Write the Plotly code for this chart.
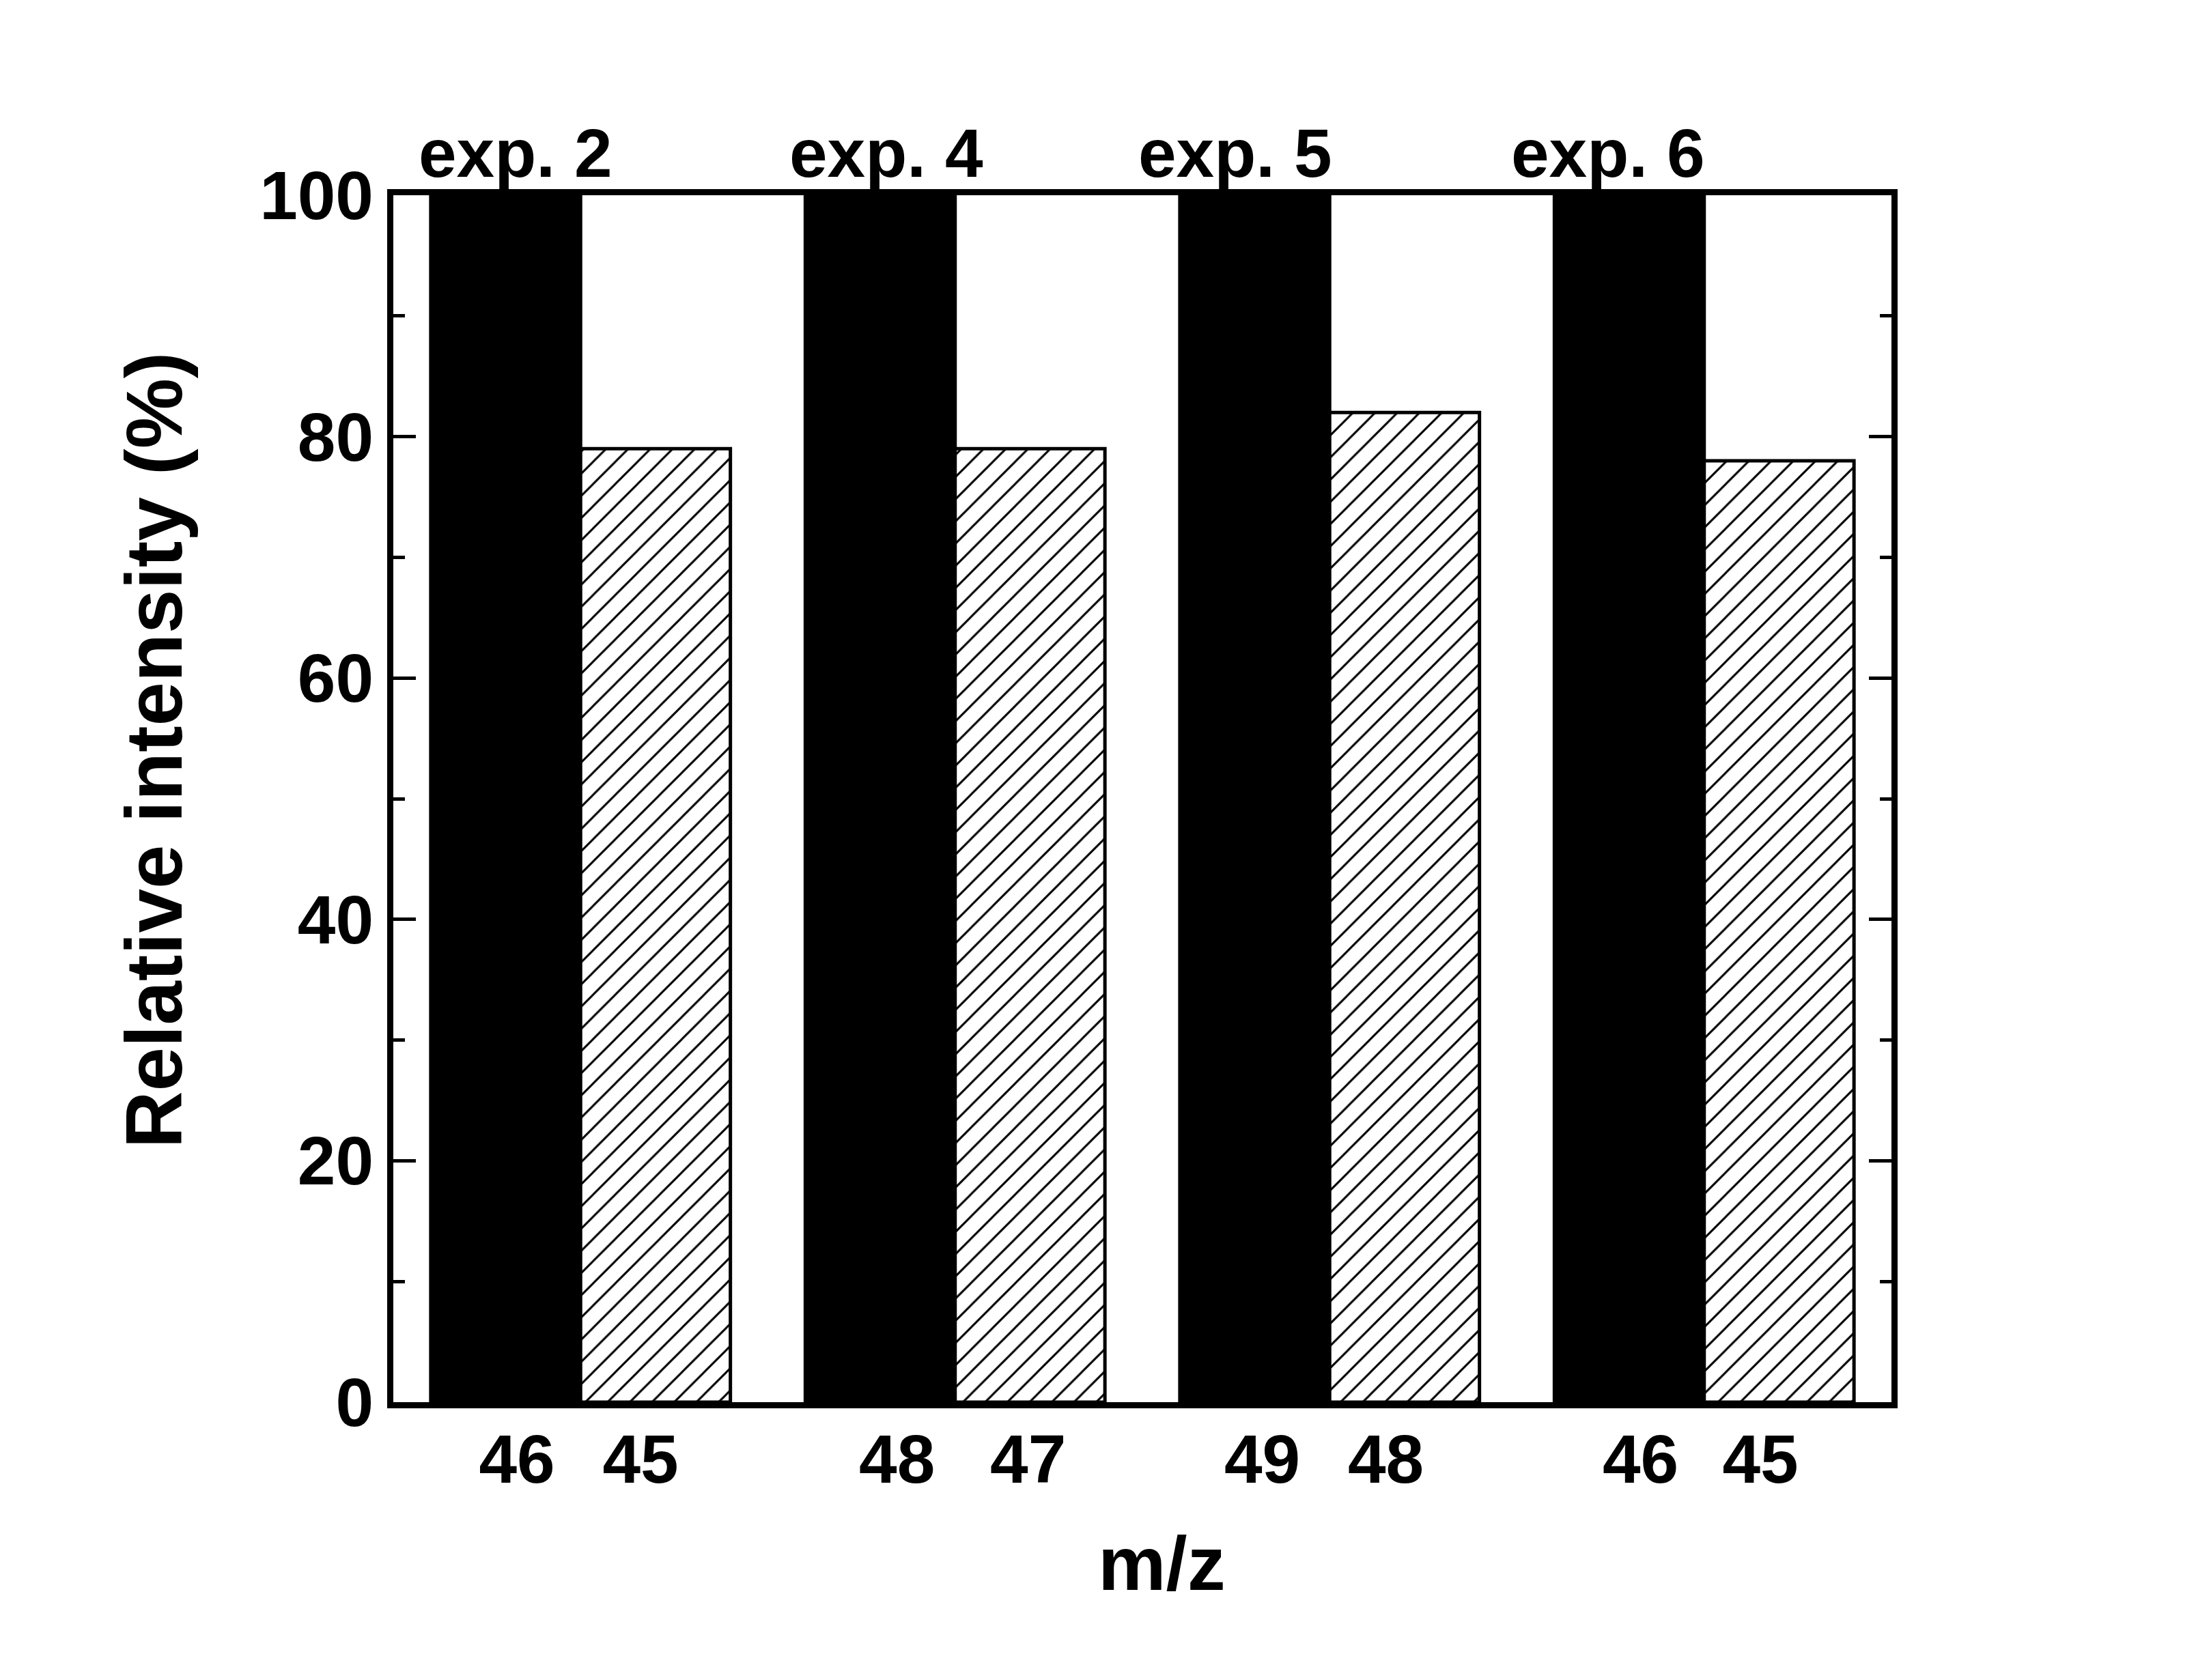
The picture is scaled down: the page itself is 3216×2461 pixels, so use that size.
import plotly.graph_objects as go

experiments = ["exp. 2", "exp. 4", "exp. 5", "exp. 6"]
parent_mz = ["46", "48", "49", "46"]
fragment_mz = ["45", "47", "48", "45"]
parent_intensity = [100, 100, 100, 100]
fragment_intensity = [79, 79, 82, 78]

FONT = "Liberation Sans, Arial, sans-serif"
groups = list(range(len(experiments)))

# style: horizontal placement tweaks of the labels (group units)
header_shift = [-0.174, -0.184, -0.252, -0.257]
parent_label_shift = [0.03, 0.045, 0.02, 0.03]
fragment_label_shift = [-0.04, -0.005, -0.05, -0.05]

fig = go.Figure()
fig.add_trace(go.Bar(
    x=groups, y=parent_intensity, name="parent",
    marker=dict(color="black", line=dict(color="black", width=5)),
))
fig.add_trace(go.Bar(
    x=groups, y=fragment_intensity, name="fragment",
    marker=dict(color="white", line=dict(color="black", width=5),
                pattern=dict(shape="/", fgcolor="black", bgcolor="white",
                             size=23, solidity=0.13, fillmode="replace")),
))

tickvals = ([g - 0.2 + s for g, s in zip(groups, parent_label_shift)]
            + [g + 0.2 + s for g, s in zip(groups, fragment_label_shift)])
ticktext = parent_mz + fragment_mz

for g, lab, s in zip(groups, experiments, header_shift):
    fig.add_annotation(x=g + s, y=1.0, xref="x", yref="paper", text=lab,
                       showarrow=False, yanchor="bottom", yshift=4,
                       font=dict(family=FONT, size=100, color="black", weight="bold"))

fig.add_annotation(x=0, xref="paper", xshift=-350, y=0.54, yref="paper",
                   text="Relative intensity (%)", textangle=-90, showarrow=False,
                   xanchor="center", yanchor="middle",
                   font=dict(family=FONT, size=116, color="black", weight="bold"))
fig.add_annotation(x=0.513, xref="paper", y=0, yref="paper", yshift=-236,
                   text="m/z", showarrow=False, xanchor="center", yanchor="middle",
                   font=dict(family=FONT, size=112, color="black", weight="bold"))

fig.update_layout(
    width=3216, height=2461,
    margin=dict(l=576, r=446, t=286, b=407),
    paper_bgcolor="white", plot_bgcolor="white",
    barmode="group", bargap=0.2, bargroupgap=0,
    showlegend=False,
    font=dict(family=FONT, size=100, color="black", weight="bold"),
)
fig.update_xaxes(
    range=[-0.5, 3.5], tickmode="array", tickvals=tickvals, ticktext=ticktext,
    ticks="", showgrid=False, zeroline=False,
    showline=True, linecolor="black", linewidth=9, mirror=True,
    ticklabelstandoff=-11,
    tickfont=dict(family=FONT, size=100, color="black", weight="bold"),
)
fig.update_yaxes(
    range=[0, 100], tickvals=[0, 20, 40, 60, 80, 100],
    ticks="inside", ticklen=33, tickwidth=5, tickcolor="black",
    minor=dict(tickvals=[10, 30, 50, 70, 90], ticks="inside", ticklen=17,
               tickwidth=5, tickcolor="black"),
    showgrid=False, zeroline=False,
    showline=True, linecolor="black", linewidth=9, mirror="ticks",
    ticklabelstandoff=0,
    tickfont=dict(family=FONT, size=100, color="black", weight="bold"),
)

fig.write_html("out.html")
